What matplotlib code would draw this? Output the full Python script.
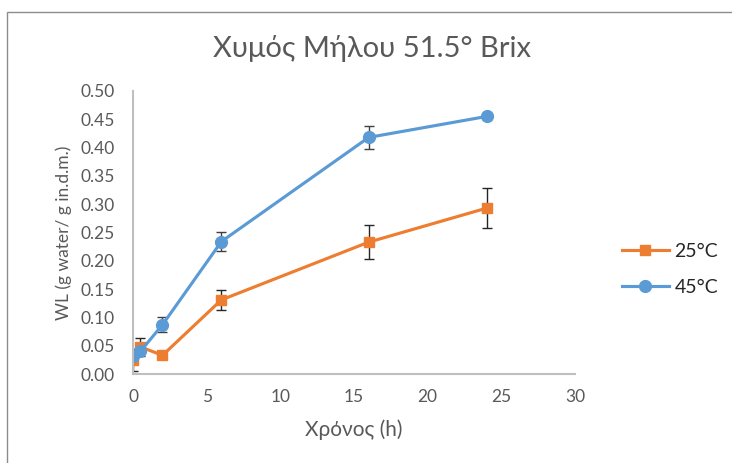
import numpy as np
import matplotlib.pyplot as plt
from matplotlib.patches import Rectangle

plt.rcParams['font.family'] = ['Lato', 'DejaVu Sans']

# data
t_25 = [0, 0.5, 2, 6, 16, 24]
wl_25 = [0.025, 0.048, 0.033, 0.131, 0.233, 0.293]
err_25 = [0.02, 0.016, 0.0, 0.018, 0.03, 0.035]

t_45 = [0, 0.5, 2, 6, 16, 24]
wl_45 = [0.032, 0.040, 0.087, 0.234, 0.418, 0.455]
err_45 = [0.0, 0.0, 0.013, 0.017, 0.02, 0.005]

orange = '#ED7D31'
blue = '#5B9BD5'
grey = '#595959'

fig = plt.figure(figsize=(7.32, 4.63), dpi=100)
# outer chart frame (cropped on right and bottom in the original)
fig.patches.append(Rectangle((0.0095, -0.05), 1.05, 1.024, transform=fig.transFigure,
                             fill=False, edgecolor='#8c8c8c', lw=1.0))

ax = fig.add_axes([0.1817, 0.1922, 0.6038, 0.6113])

ax.errorbar(t_25, wl_25, yerr=err_25, color=orange, lw=2.25, marker='s', ms=7,
            ecolor='#262626', elinewidth=1.0, capsize=3.5, capthick=1.0, label='25°C')
ax.errorbar(t_45, wl_45, yerr=err_45, color=blue, lw=2.25, marker='o', ms=8.5,
            ecolor='#404040', elinewidth=1.0, capsize=3.5, capthick=1.0, label='45°C')

ax.set_xlim(0, 30)
ax.set_ylim(0, 0.5)
ax.set_xticks(np.arange(0, 31, 5))
ax.set_yticks(np.arange(0, 0.51, 0.05))
ax.yaxis.set_major_formatter(plt.FormatStrFormatter('%.2f'))
ax.tick_params(length=0, labelsize=12.5, labelcolor=grey)
ax.tick_params(axis='y', pad=13)
ax.tick_params(axis='x', pad=11)
for s in ['top', 'right']:
    ax.spines[s].set_visible(False)
for s in ['left', 'bottom']:
    ax.spines[s].set_color('#bfbfbf')
    ax.spines[s].set_linewidth(1.5)

ax.set_xlabel('Χρόνος (h)', fontsize=15, color=grey, labelpad=10)
ax.set_ylabel('WL (g water/ g in.d.m.)', fontsize=12.5, color=grey, labelpad=6)
fig.text(0.508, 0.895, 'Χυμός Μήλου 51.5° Brix', ha='center', va='center',
         fontsize=21, color=grey)

h, l = ax.get_legend_handles_labels()
h = [x[0] for x in h]
fig.legend(h, l, loc='center left', bbox_to_anchor=(0.826, 0.418), frameon=False,
           fontsize=14, labelcolor='#262626', handlelength=2.4, labelspacing=0.95,
           handletextpad=0.3)

fig.savefig('out.png', dpi=100)
